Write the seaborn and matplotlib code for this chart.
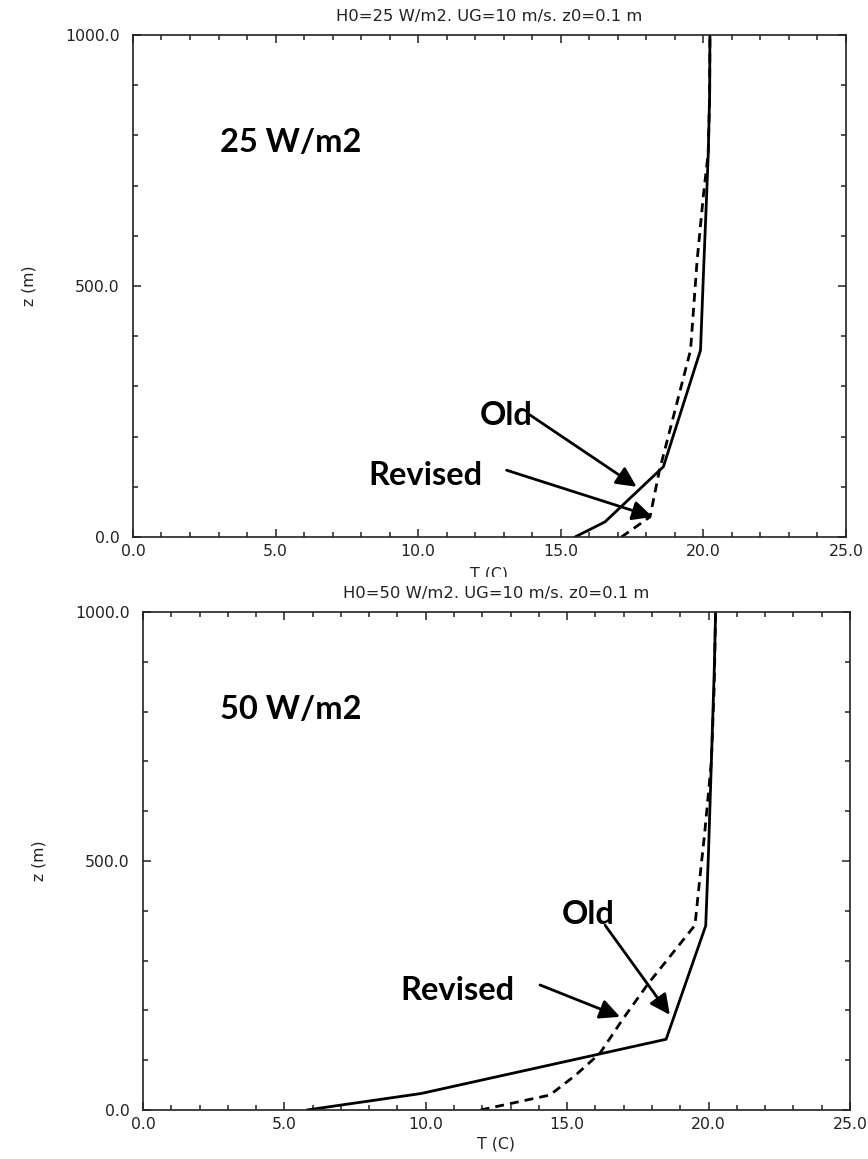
import matplotlib
matplotlib.use("Agg")
import matplotlib.pyplot as plt
import seaborn as sns
from matplotlib.ticker import MultipleLocator, FixedLocator
from matplotlib.transforms import Bbox, TransformedBbox

# ---- profile data: height z (m) and temperature T (C) ----
z_old_25 = [0, 30, 140, 372, 520, 660, 760, 880, 1000]
t_old_25 = [15.5, 16.55, 18.6, 19.9, 20.0, 20.1, 20.17, 20.22, 20.23]
z_rev_25 = [0, 40, 130, 372, 550, 680, 765, 880, 1000]
t_rev_25 = [17.13, 18.13, 18.45, 19.55, 19.78, 20.0, 20.17, 20.22, 20.23]

z_old_50 = [0, 33, 142, 370, 520, 700, 880, 1000]
t_old_50 = [5.8, 9.83, 18.5, 19.9, 20.0, 20.1, 20.2, 20.25]
z_rev_50 = [0, 30, 70, 114, 185, 254, 371, 470, 560, 700, 850, 1000]
t_rev_50 = [11.94, 14.39, 15.3, 16.16, 17.0, 17.87, 19.52, 19.7, 19.87, 20.1, 20.2, 20.25]

titles = ["H0=25 W/m2. UG=10 m/s. z0=0.1 m", "H0=50 W/m2. UG=10 m/s. z0=0.1 m"]
flux_labels = ["25 W/m2", "50 W/m2"]
x_ticks = [0, 5, 10, 15, 20, 25]
y_ticks = [0, 500, 1000]

sns.set_theme(style="white")
plt.rcParams["font.family"] = ["DejaVu Sans"]

fig = plt.figure(figsize=(8.68, 11.59), dpi=100)
fig.patch.set_facecolor("white")
ax1 = fig.add_axes([0.1532, 0.5367, 0.8214, 0.4331])
ax2 = fig.add_axes([0.1647, 0.0423, 0.8145, 0.4297])

tick_font = dict(family="DejaVu Sans", size=11.3, color="#222222")
title_font = dict(family="DejaVu Sans", size=11.8, color="#222222")
bold_font = dict(family="Lato", weight="bold", size=23.5, color="black")
arrow_kw = dict(arrowstyle="-|>,head_length=0.45,head_width=0.22",
                mutation_scale=27, lw=2.0, color="black", shrinkA=0, shrinkB=0)


def style_axes(ax, title):
    ax.set_xlim(0, 25)
    ax.set_ylim(0, 1000)
    ax.xaxis.set_major_locator(FixedLocator(x_ticks))
    ax.yaxis.set_major_locator(FixedLocator(y_ticks))
    ax.xaxis.set_minor_locator(MultipleLocator(1))
    ax.yaxis.set_minor_locator(MultipleLocator(100))
    ax.set_xticklabels([f"{v:.1f}" for v in x_ticks], fontdict=tick_font)
    ax.set_yticklabels([f"{v:.1f}" for v in y_ticks], fontdict=tick_font)
    ax.tick_params(which="both", direction="in", top=True, right=True,
                   bottom=True, left=True, color="#222222", width=1.1)
    ax.tick_params(which="major", length=6)
    ax.tick_params(which="minor", length=3.5)
    ax.tick_params(axis="x", which="major", pad=5)
    ax.tick_params(axis="y", which="major", pad=9.5)
    for sp in ax.spines.values():
        sp.set_color("#222222")
        sp.set_linewidth(1.2)
        sp.set_visible(True)
    ax.set_title(title, fontdict=title_font, pad=10)
    ax.set_xlabel("T (C)", fontdict=tick_font)
    ax.set_ylabel("z (m)", fontdict=tick_font)
    ax.xaxis.label.set_verticalalignment("top")
    ax.grid(False)


def draw_profiles(ax, t_old, z_old, t_rev, z_rev):
    sns.lineplot(x=t_old, y=z_old, sort=False, estimator=None, ax=ax,
                 color="black", lw=2.0, linestyle="-")
    sns.lineplot(x=t_rev, y=z_rev, sort=False, estimator=None, ax=ax,
                 color="black", lw=2.0, linestyle=(0, (3.2, 2.2)))


# upper panel: 25 W/m2
draw_profiles(ax1, t_old_25, z_old_25, t_rev_25, z_rev_25)
style_axes(ax1, titles[0])
ax1.xaxis.set_label_coords(0.5, -0.058)
ax1.yaxis.set_label_coords(-0.136, 0.5)
ax1.text(3.05, 790, flux_labels[0], ha="left", va="center_baseline", fontdict=bold_font)
ax1.text(12.17, 247, "Old", ha="left", va="center_baseline", fontdict=bold_font)
ax1.text(12.27, 127, "Revised", ha="right", va="center_baseline", fontdict=bold_font)
ax1.annotate("", xy=(17.66, 100), xytext=(13.92, 243), arrowprops=arrow_kw)
ax1.annotate("", xy=(18.22, 40), xytext=(13.1, 133), arrowprops=arrow_kw)

# the lower panel overlaps the bottom of the upper axis label
clip = TransformedBbox(Bbox([[0, (1159 - 577) / 1159], [1, 1]]), fig.transFigure)
ax1.xaxis.label.set_clip_box(clip)
ax1.xaxis.label.set_clip_on(True)

# lower panel: 50 W/m2
draw_profiles(ax2, t_old_50, z_old_50, t_rev_50, z_rev_50)
style_axes(ax2, titles[1])
ax2.xaxis.set_label_coords(0.5, -0.054)
ax2.yaxis.set_label_coords(-0.137, 0.5)
ax2.text(2.72, 810, flux_labels[1], ha="left", va="center_baseline", fontdict=bold_font)
ax2.text(14.82, 398, "Old", ha="left", va="center_baseline", fontdict=bold_font)
ax2.text(13.15, 245, "Revised", ha="right", va="center_baseline", fontdict=bold_font)
ax2.annotate("", xy=(18.63, 191), xytext=(16.34, 371), arrowprops=arrow_kw)
ax2.annotate("", xy=(16.87, 187), xytext=(14.04, 251), arrowprops=arrow_kw)

fig.savefig("out.png", dpi=100, facecolor="white")
